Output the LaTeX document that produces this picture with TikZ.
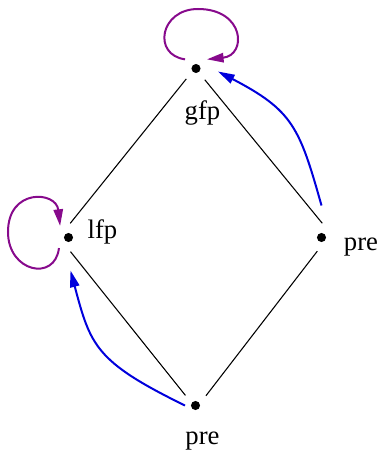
\documentclass[tikz,border=0pt]{standalone}
\usepackage{fontspec}
\setmainfont{Liberation Serif}
\usetikzlibrary{arrows.meta, calc}
\definecolor{loopc}{RGB}{135,10,140}
\definecolor{ordc}{RGB}{0,0,220}

\begin{document}
\begin{tikzpicture}[
  x=0.75pt, y=-0.75pt,
  font=\fontsize{20}{24}\selectfont,
  vtx/.style={circle, inner sep=0pt, minimum size=21pt,
              path picture={\fill (path picture bounding box.center) circle (3.4pt);}},
  lbl/.style={inner sep=0pt, anchor=base},
  ln/.style={line width=0.8pt},
  self/.style={-{Triangle[length=12.5pt, width=7pt]}, line width=1.5pt, draw=loopc},
  ord/.style={-{Triangle[length=12.5pt, width=7pt]}, line width=1.5pt, draw=ordc}
]
\useasboundingbox (0,0) rectangle (381,453);

% ---------- points of the lattice ----------
\node[vtx] (g) at (196,68.5) {};
\node[vtx] (l) at (68.5,237.5) {};
\node[vtx] (r) at (321.5,237.5) {};
\node[vtx] (b) at (195.5,405.5) {};

\node[lbl] (gfp) at (202.5,119) {gfp};
\node[lbl] (lfp) at (102.5,238.5) {lfp};
\node[lbl] (rpre) at (361,250) {pre};
\node[lbl] (bpre) at (202.5,444.5) {pre};

% ---------- order ----------
\foreach \i/\j in {g.227/l.83, l.278/b.135, b.43/r.253, r.87/g.308}
  {\draw[ln] (\i) -- (\j);}

% ---------- self loops ----------
\draw[self] (g.140) .. controls +(-33,-4.5) and +(-38,0) .. ($(g)+(2,-59.5)$)
  .. controls +(47,0) and +(40,-4) .. (g.40);
\draw[self] (l.228) .. controls +(-4,34) and +(0,40) .. ($(l)+(-60.5,-5.5)$)
  .. controls +(0,-44) and +(-4,-35) .. (l.126);

% ---------- pre arrows ----------
\draw[ord] ($(r)+(0,-32)$) .. controls +(-22,-78) and +(75,39) .. ($(g)+(22,3)$);
\draw[ord] ($(b)+(-10.5,0)$) .. controls +(-90,-44) and +(20,75) .. ($(l)+(2,33)$);

\end{tikzpicture}
\end{document}
